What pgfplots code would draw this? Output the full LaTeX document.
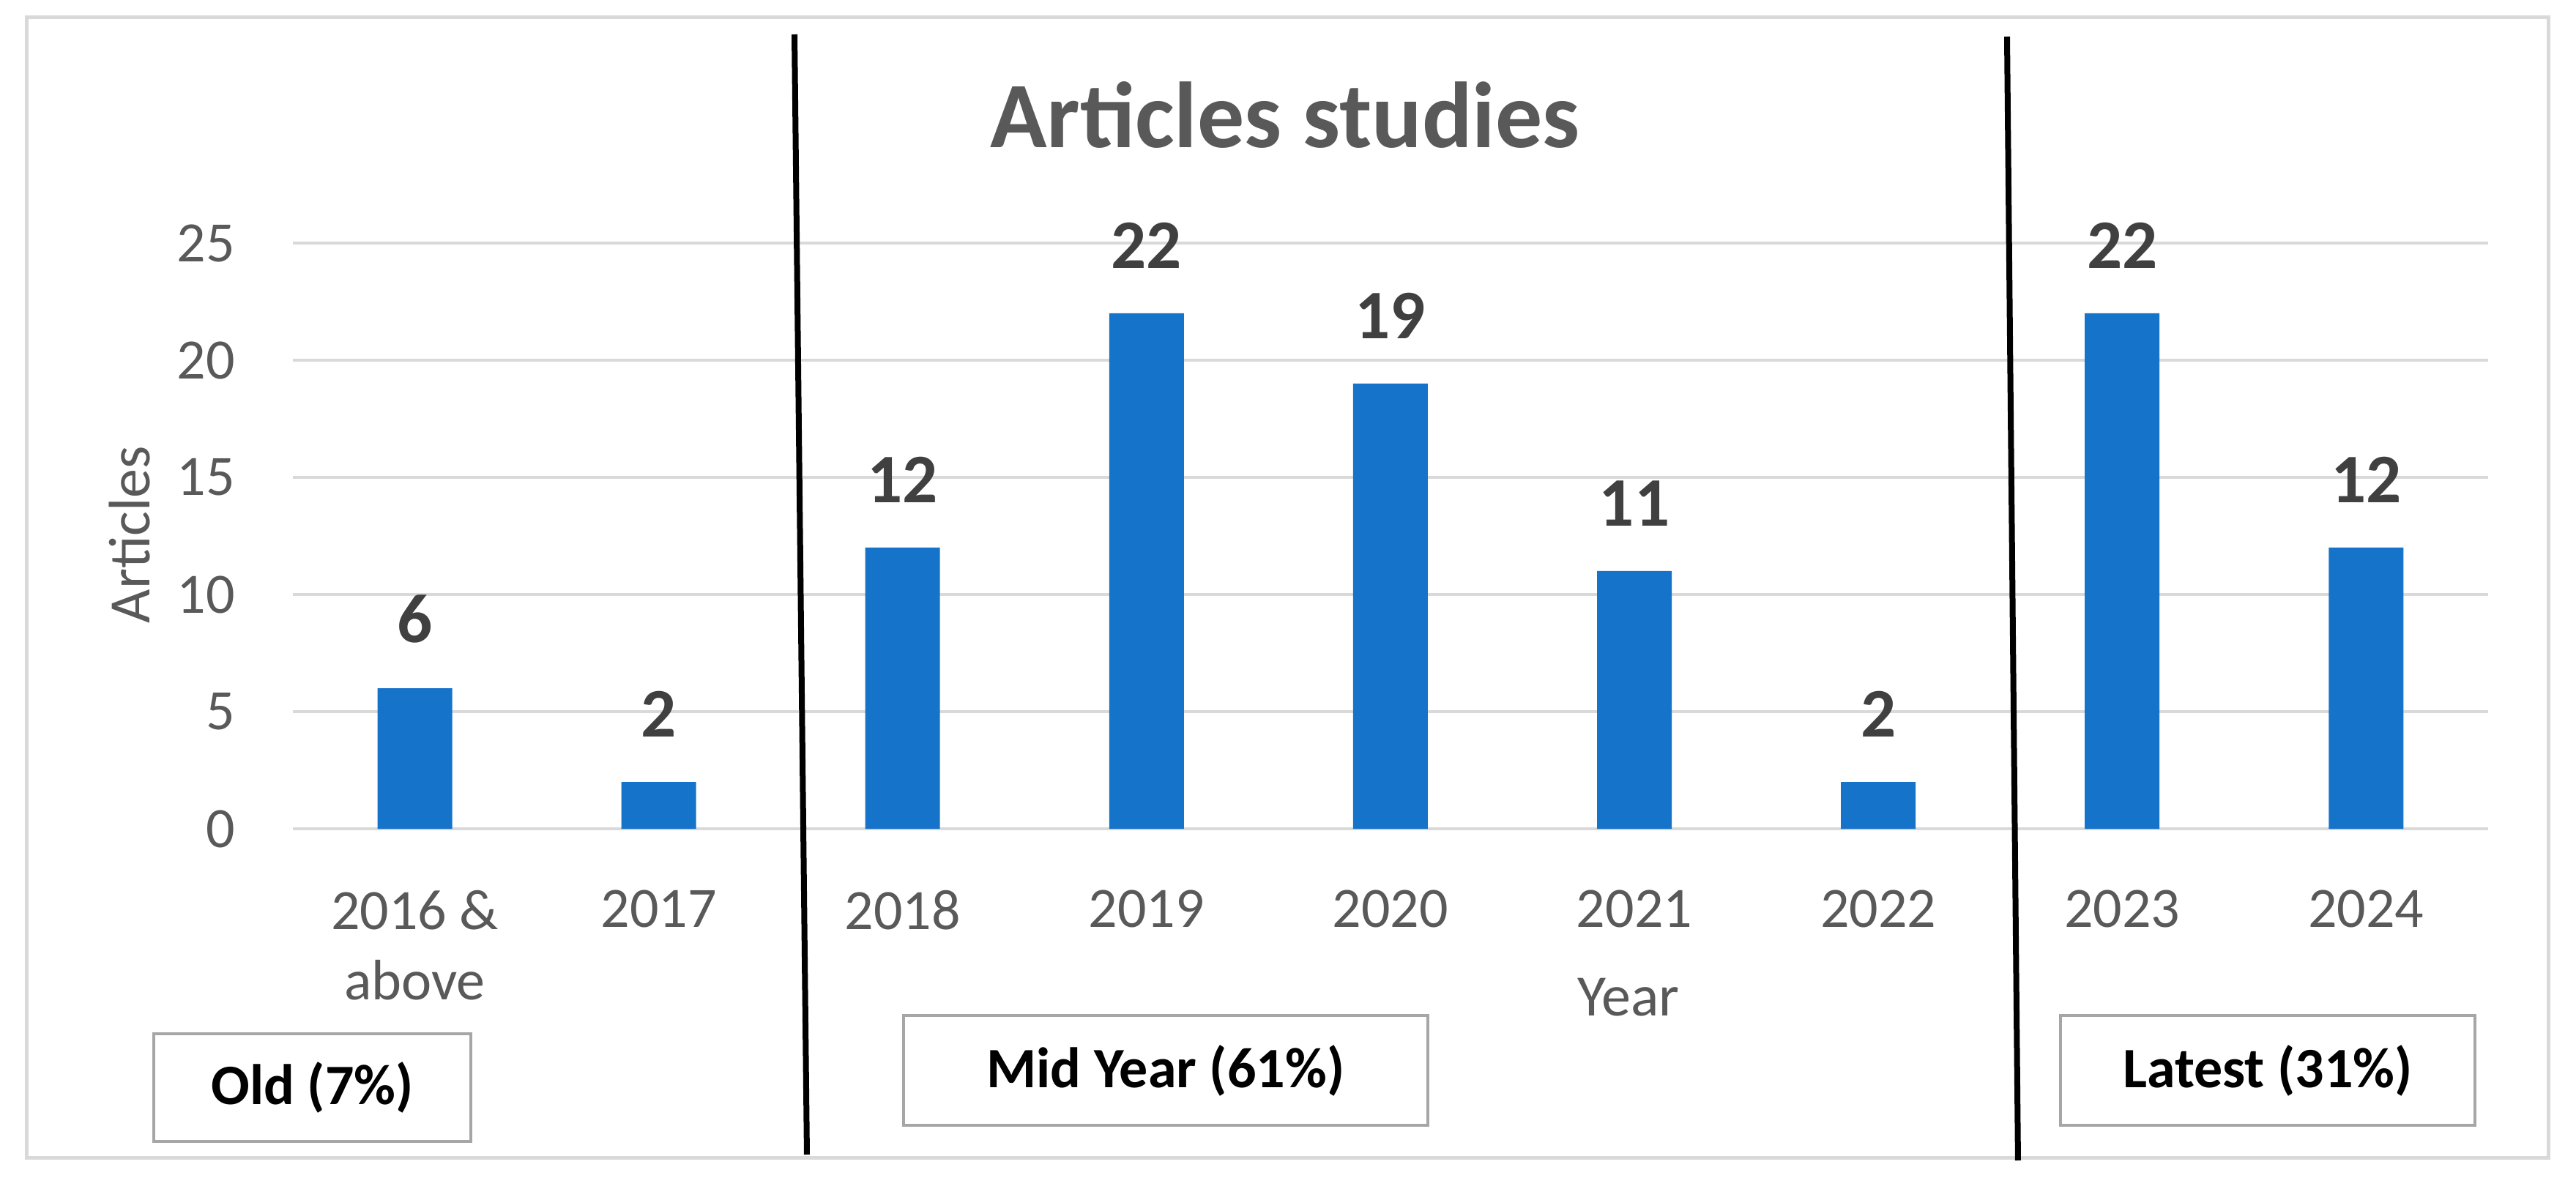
\documentclass[border=0pt]{standalone}
\usepackage{fontspec}
\setmainfont{Carlito}
\usepackage{pgfplots}
\pgfplotsset{compat=1.18}
\definecolor{barblue}{HTML}{1673CA}
\definecolor{txtgray}{HTML}{595959}
\definecolor{lblgray}{HTML}{404040}
\definecolor{gridgray}{HTML}{D9D9D9}
\definecolor{boxgray}{HTML}{A6A6A6}

\begin{document}
\begin{tikzpicture}
\path[use as bounding box, fill=white] (-40pt,-47.7pt) rectangle (311.8pt,113.2pt);
% chart area frame
\draw[gridgray, line width=0.5pt] (-36.3pt,-45pt) rectangle (308pt,110.8pt);

\begin{axis}[
  at={(0,0)}, anchor=south west,
  scale only axis, width=299.8pt, height=80pt,
  ybar, bar width=10.2pt,
  xmin=-0.5, xmax=8.5, ymin=0, ymax=25,
  ytick={0,5,...,25},
  xtick=data,
  xticklabels={{2016 \&\\above},2017,2018,2019,2020,2021,2022,2023,2024},
  /pgf/number format/assume math mode=true,
  axis line style={draw=none},
  major tick length=0pt,
  ymajorgrids, grid style={gridgray, line width=0.4pt},
  tick label style={font=\fontsize{7.8}{9.6}\selectfont, text=txtgray},
  yticklabel style={xshift=-4.4pt},
  xticklabel style={yshift=-4.9pt, align=center},
  nodes near coords,
  every node near coord/.append style={font=\bfseries\fontsize{9.5}{11}\selectfont, text=lblgray, yshift=2.6pt},
  clip=false,
]
\addplot[fill=barblue, draw=none] coordinates {
  (0,6) (1,2) (2,12) (3,22) (4,19) (5,11) (6,2) (7,22) (8,12)
};
\end{axis}

% title and axis titles
\node[anchor=base, font=\bfseries\fontsize{12.8}{15}\selectfont, text=txtgray] at (135.5pt,93pt) {Articles studies};
\node[anchor=base, font=\fontsize{8}{9.6}\selectfont, text=txtgray] at (182.4pt,-25.6pt) {Year};
\node[rotate=90, anchor=base, font=\fontsize{8}{9.6}\selectfont, text=txtgray] at (-19.5pt,40.2pt) {Articles};

% period separators
\draw[black, line width=0.8pt] (68.5pt,108.5pt) -- (70.2pt,-44.5pt);
\draw[black, line width=0.8pt] (234.1pt,108.2pt) -- (235.6pt,-45.3pt);

% period boxes
\tikzset{period/.style={draw=boxgray, line width=0.4pt, fill=white, inner sep=0pt,
  font=\bfseries\fontsize{7.8}{9}\selectfont, text=black}}
\node[period, minimum width=43.3pt, minimum height=14.7pt] at (2.65pt,-35.35pt) {Old (7\%)};
\node[period, minimum width=71.6pt, minimum height=15pt] at (119.2pt,-33pt) {Mid Year (61\%)};
\node[period, minimum width=56.6pt, minimum height=15pt] at (269.7pt,-33pt) {Latest (31\%)};
\end{tikzpicture}
\end{document}
